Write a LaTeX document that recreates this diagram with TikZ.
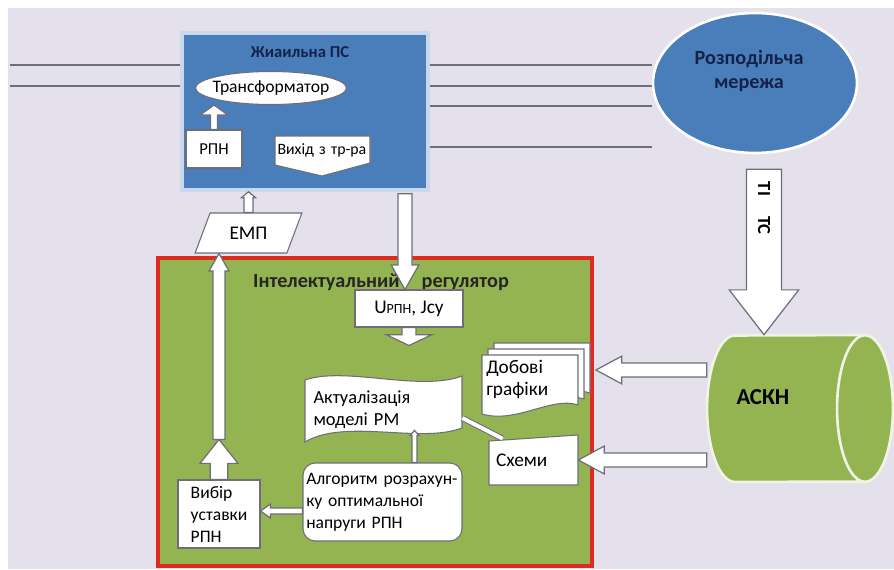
\documentclass[tikz,border=0pt]{standalone}
\usepackage{fontspec}
\setmainfont{Carlito}
\usetikzlibrary{arrows.meta, positioning, shapes.geometric, calc}
\definecolor{cbg}{HTML}{E4E1EC}
\definecolor{cblue}{HTML}{4A7EBB}
\definecolor{cnavy}{HTML}{14224A}
\definecolor{cgreen}{HTML}{93B451}
\definecolor{cred}{HTML}{E02A1F}
\definecolor{cgrey}{HTML}{6E6E78}
\tikzset{
  every picture/.style={x=0.02cm, y=-0.02cm},
  f/.style={font=\fontsize{#1}{12.5}\selectfont},
  f/.default=10,
  title/.style={font=\bfseries\fontsize{#1}{13.6}\selectfont},
  wbox/.style={draw=cgrey, fill=white, line width=0.6pt, inner sep=1pt},
  barrow/.style={draw=cgrey, fill=white, line width=0.7pt, line join=miter},
  wire/.style={draw=cgrey, line width=1pt},
  bluebox/.style={draw=cblue!30!white, fill=cblue, line width=2pt},
  cyl/.style={fill=cgreen, draw=white!85!cgreen, line width=1.5pt},
}
% block arrow: [style]{from}{to}{half shaft}{half head}{head length}
\newcommand\blockarr[6][]{%
  \path #2 coordinate (ba-s) #3 coordinate (ba-t);
  \coordinate (ba-h) at ($(ba-t)!#6!(ba-s)$);
  \draw[barrow,#1] ($(ba-s)!#4!90:(ba-t)$) -- ($(ba-h)!#4!90:(ba-t)$)
    -- ($(ba-h)!#5!90:(ba-t)$) -- (ba-t) -- ($(ba-h)!#5!-90:(ba-t)$)
    -- ($(ba-h)!#4!-90:(ba-t)$) -- ($(ba-s)!#4!-90:(ba-t)$) -- cycle;
}
\begin{document}
\begin{tikzpicture}
  \useasboundingbox (0,0) rectangle (894,569);
  \fill[white] (0,0) rectangle (894,569);
  \fill[cbg] (8,8) rectangle (894,569);

  % substation
  \node[bluebox, minimum width=4.92cm, minimum height=3.14cm] (ps) at (305,111.5) {};
  \foreach \y in {65,86}
    \draw[wire] (10,\y) -- (ps.west |- 0,\y);
  \foreach \y in {65,86,106,147}
    \draw[wire] (ps.east |- 0,\y) -- (652,\y);
  \node[title=9.5, text=cnavy] (pst) at (300,52) {Жиаильна ПС};
  \node[wbox, ellipse, minimum width=3.02cm, minimum height=0.66cm] (trans) at (271,88) {};
  \node[f] (transt) at (trans) {Трансформатор};
  \node[wbox, minimum width=1.12cm, minimum height=0.76cm, f=9.5] (rpn) at (214,149) {РПН};
  \blockarr{(rpn.north)}{(rpn.north |- trans.south)}{2pt}{7.9pt}{5.7pt}
  \draw[wbox] (275,136) -- (370,136) -- (370,163) -- (322,176) -- (275,165) -- cycle;
  \node[f=9, minimum width=1.9cm, minimum height=0.58cm, text width=1.8cm, align=left, inner sep=1pt] (vyh) at (322.5,150.5) {Вихід з тр-ра};

  % network
  \node[ellipse, fill=cblue, draw=white, line width=1.5pt, minimum width=4.08cm, minimum height=2.8cm] (re) at (755,83) {};
  \node[title=11.5, text=cnavy, align=center] (ret) at (749,71) {Розподільча\\мережа};

  % regulator
  \node[draw=cred, fill=cgreen, line width=2.3pt, minimum width=8.68cm, minimum height=6.16cm] (reg) at (375,412) {};
  \node[title=11.5, text=black!85] (regt) at (381,282) {Інтелектуальний\hspace{1.1em}регулятор};
  \node[wbox, minimum width=2.16cm, minimum height=0.74cm, f=11] (upn) at (409,308.5) {U{\fontsize{8}{9}\selectfont РПН}, Jсу};
  \coordinate (upntip) at ($(upn.south)+(0,18)$);
  \blockarr{(upn.south)}{(upntip)}{4pt}{13pt}{6.2pt}
  \coordinate (psout) at ($(ps.south)+(100,2)$);
  \blockarr{(psout)}{(psout |- upn.north)}{4pt}{7.9pt}{14pt}

  \node[wbox, trapezium, trapezium left angle=63, trapezium right angle=117, trapezium stretches=true, minimum width=2.14cm, minimum height=0.8cm, f=11] (emp) at (248.5,233) {ЕМП};
  \blockarr{(emp.north)}{(emp.north |- ps.south)}{2.5pt}{4pt}{3.4pt}

  \draw[wbox] (305,380) .. controls (345,366) and (420,392) .. (462,376) -- (462,428) .. controls (420,444) and (345,418) .. (305,442) -- cycle;
  \node[f=10.5, minimum width=3.14cm, minimum height=1.2cm, text width=2.8cm, align=left] (akt) at (383.5,410) {Актуалізація\\моделі РМ};

  \foreach \o in {12,6,0}
    \draw[wbox, shift={(\o,-\o)}] (482,355) -- (578,355) -- (578,405) .. controls (552,396) and (516,424) .. (482,414) -- cycle;
  \node[f=11, minimum width=1.92cm, minimum height=1.16cm, text width=1.75cm, align=left] (dob) at (530,379) {Добові\\графіки};

  \draw[wbox] (489,485) -- (489,441) -- (578,435) -- (578,485) -- cycle;
  \node[f=11, minimum width=1.78cm, minimum height=1cm, text width=1.5cm, align=left] (sxem) at (533.5,460) {Схеми};
  \draw[double=white, double distance=2.2pt, draw=cgrey, line width=0.6pt] ($(akt.east)+(0,8)$) -- ($(sxem.north west)+(14,4)$);

  \node[wbox, rounded corners=7pt, minimum width=3.18cm, minimum height=1.56cm, text width=3.05cm, align=left, f=10] (alg) at (382.5,502) {Алгоритм розрахун-\\ку оптимальної\\напруги РПН};
  \node[wbox, minimum width=1.64cm, minimum height=1.36cm, align=left, f=10] (vyb) at (219,514) {Вибір\\уставки\\РПН};

  \coordinate (vybtip) at ($(vyb.north)+(0,-40)$);
  \blockarr{(vyb.north)}{(vybtip)}{5pt}{10.8pt}{13.6pt}
  \blockarr{(vybtip)}{(vybtip |- emp.south)}{3.4pt}{5.7pt}{10pt}
  \coordinate (a7) at ($(alg.west)+(0,9)$);
  \blockarr{(a7)}{(a7 -| vyb.east)}{1.7pt}{4pt}{5.7pt}
  \coordinate (a8) at ($(alg.north)+(32,0)$);
  \blockarr{(a8)}{($(a8 |- akt.south)+(0,-10)$)}{1.4pt}{2.5pt}{3pt}

  % ASKN
  \node[minimum width=3.72cm, minimum height=2.94cm] (askh) at (800,408.5) {};
  \draw[cyl] (735,482) arc[start angle=270, end angle=90, x radius=15.9pt, y radius=41.7pt]
    -- (865,335) arc[start angle=90, end angle=-90, x radius=15.9pt, y radius=41.7pt] -- cycle;
  \draw[cyl] (865,408.5) ellipse[x radius=15.9pt, y radius=41.7pt];
  \node[title=13] (askht) at ($(askh.center)+(-37,-11)$) {АСКН};
  \coordinate (dobin) at ($(dob.east)+(16,-9)$);
  \blockarr{(askh.west |- dobin)}{(dobin)}{4pt}{7.9pt}{14.7pt}
  \blockarr{(askh.west |- sxem.east)}{(sxem.east)}{4pt}{7.9pt}{14.7pt}

  \coordinate (titop) at ($(re.south)+(9,15)$);
  \blockarr{(titop)}{(titop |- askh.north)}{9.9pt}{19.8pt}{25.5pt}
  \node[title=10.5, rotate=-90] (ti) at ($(titop)+(0,39)$) {ТІ\hspace{1.1em}ТС};
\end{tikzpicture}
\end{document}
